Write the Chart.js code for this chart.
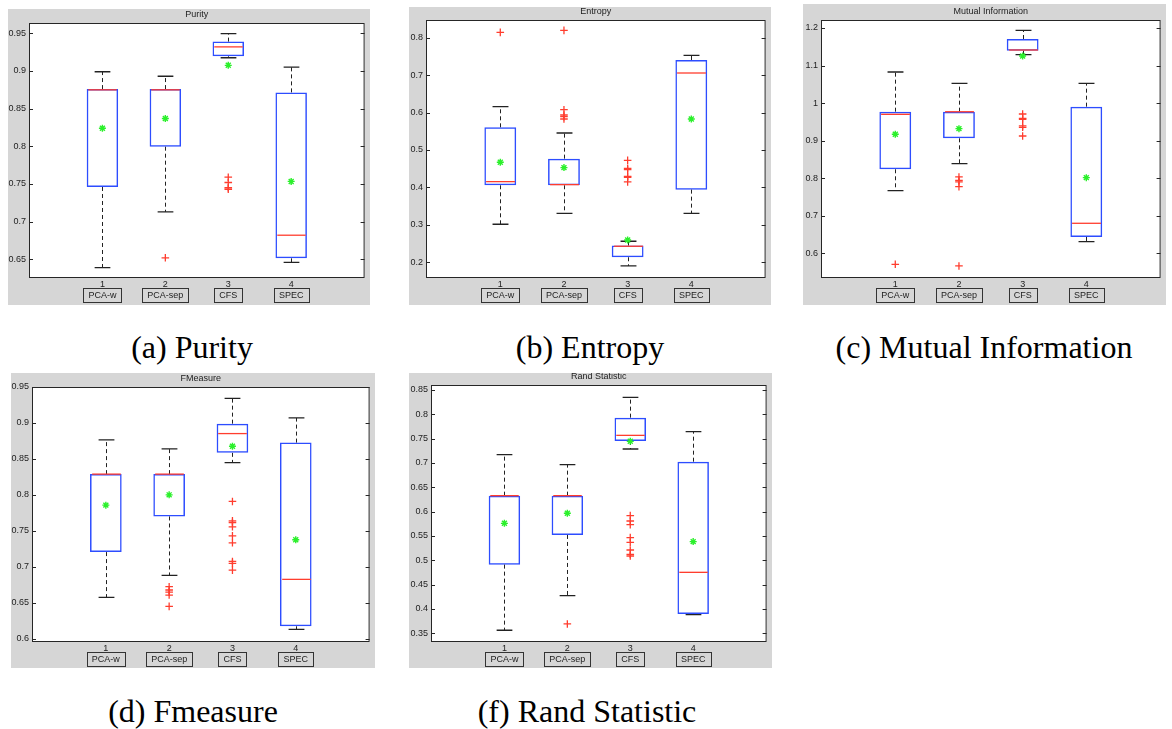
<!DOCTYPE html>
<html>
<head>
  <meta charset="utf-8">
  <title>Feature selection box plots</title>
  <script src="https://cdn.jsdelivr.net/npm/chart.js"></script>
  <style>
    body {
      margin: 0;
      width: 1172px;
      height: 729px;
      background: #fff;
      position: relative;
      overflow: hidden;
    }
    .panel {
      position: absolute;
      background: #d6d6d6;
    }
    .caption {
      position: absolute;
      font-family: "Liberation Serif", serif;
      font-size: 32px;
      color: #000;
      white-space: nowrap;
      transform: translate(-50%, -50%);
    }
  </style>
</head>
<body>

  <div class="caption" style="left:192px; top:347px;">(a) Purity</div>
  <div class="caption" style="left:590px; top:347px;">(b) Entropy</div>
  <div class="caption" style="left:984px; top:347px;">(c) Mutual Information</div>
  <div class="caption" style="left:193px; top:711px;">(d) Fmeasure</div>
  <div class="caption" style="left:587px; top:711px;">(f) Rand Statistic</div>

  <script>
    const groupNames = ['PCA-w', 'PCA-sep', 'CFS', 'SPEC'];
    const groupIndex = [1, 2, 3, 4];

    // Purity
    const purityRange = [0.6252, 0.9637];
    const purityTicks = [0.65, 0.7, 0.75, 0.8, 0.85, 0.9, 0.95];
    const purityQuartiles = [[0.746, 0.875, 0.876], [0.7995, 0.875, 0.876], [0.9195, 0.932, 0.939], [0.6513, 0.682, 0.8716]];
    const purityWhiskers = [[0.639, 0.899], [0.713, 0.893], [0.9176, 0.9496], [0.646, 0.905]];
    const purityMeans = [0.824, 0.837, 0.9075, 0.7534];
    const purityOutliers = [[], [0.652], [0.759, 0.752, 0.745, 0.743], []];

    // Entropy
    const entropyRange = [0.158, 0.8473];
    const entropyTicks = [0.2, 0.3, 0.4, 0.5, 0.6, 0.7, 0.8];
    const entropyQuartiles = [[0.4057, 0.4155, 0.5606], [0.4057, 0.4075, 0.4769], [0.2134, 0.2428, 0.2446], [0.3941, 0.7057, 0.7404]];
    const entropyWhiskers = [[0.3016, 0.6158], [0.3309, 0.5454], [0.1903, 0.2562], [0.3309, 0.7528]];
    const entropyMeans = [0.4671, 0.4529, 0.2597, 0.5828];
    const entropyOutliers = [[0.8142], [0.8196, 0.6077, 0.5935, 0.589, 0.5828], [0.4724, 0.4511, 0.4475, 0.4297, 0.4271, 0.4146], []];

    // Mutual Information
    const mutualRange = [0.5342, 1.2213];
    const mutualTicks = [0.6, 0.7, 0.8, 0.9, 1.0, 1.1, 1.2];
    const mutualQuartiles = [[0.8237, 0.9701, 0.9772], [0.9062, 0.977, 0.9772], [1.1396, 1.1414, 1.1707], [0.6435, 0.6799, 0.9905]];
    const mutualWhiskers = [[0.7669, 1.0828], [0.8388, 1.0527], [1.129, 1.1938], [0.6311, 1.0527]];
    const mutualMeans = [0.9169, 0.932, 1.1254, 0.8015];
    const mutualOutliers = [[0.5707], [0.8033, 0.7944, 0.79, 0.7775, 0.5663], [0.971, 0.9595, 0.9568, 0.9391, 0.9355, 0.9124], []];

    // FMeasure
    const fmeasureRange = [0.5958, 0.95];
    const fmeasureTicks = [0.6, 0.65, 0.7, 0.75, 0.8, 0.85, 0.9, 0.95];
    const fmeasureQuartiles = [[0.7207, 0.829, 0.829], [0.7702, 0.829, 0.829], [0.8585, 0.8853, 0.8991], [0.6176, 0.6828, 0.8728]];
    const fmeasureWhiskers = [[0.6578, 0.8765], [0.6883, 0.864], [0.845, 0.9343], [0.6134, 0.907]];
    const fmeasureMeans = [0.7859, 0.8002, 0.8677, 0.7378];
    const fmeasureOutliers = [[], [0.6726, 0.668, 0.6652, 0.661, 0.6453], [0.791, 0.7641, 0.7618, 0.7558, 0.7433, 0.7336, 0.7077, 0.705, 0.6957], []];

    // Rand Statistic
    const randRange = [0.3321, 0.8603];
    const randTicks = [0.35, 0.4, 0.45, 0.5, 0.55, 0.6, 0.65, 0.7, 0.75, 0.8, 0.85];
    const randQuartiles = [[0.4911, 0.6329, 0.6329], [0.5521, 0.6329, 0.6329], [0.7452, 0.7568, 0.7932], [0.3897, 0.4753, 0.7027]];
    const randWhiskers = [[0.3562, 0.7171], [0.4274, 0.6966], [0.7288, 0.8349], [0.3884, 0.7644]];
    const randMeans = [0.576, 0.5966, 0.7445, 0.5384];
    const randOutliers = [[], [0.3692], [0.5918, 0.5808, 0.5733, 0.5466, 0.537, 0.5212, 0.5123, 0.5089], []];

    const BLUE = '#2d4dff';
    const RED = '#ff3d2e';
    const GREEN = '#2bf02b';
    const INK = '#222';
    const FONT = { family: '"Liberation Sans", Arial, sans-serif', size: 9 };

    // box = [left, top, width, height] of the grey figure area
    const panels = [
      { title: 'Purity', range: purityRange, ticks: purityTicks, quart: purityQuartiles, whisk: purityWhiskers,
        means: purityMeans, outliers: purityOutliers, box: [8, 9, 362, 296], axisW: 21, axisH: 27, padTop: 14, padRight: 2 },
      { title: 'Entropy', range: entropyRange, ticks: entropyTicks, quart: entropyQuartiles, whisk: entropyWhiskers,
        means: entropyMeans, outliers: entropyOutliers, box: [409, 7, 362, 298], axisW: 17, axisH: 27, padTop: 13, padRight: 3 },
      { title: 'Mutual Information', range: mutualRange, ticks: mutualTicks, quart: mutualQuartiles, whisk: mutualWhiskers,
        means: mutualMeans, outliers: mutualOutliers, box: [803, 4, 363, 301], axisW: 18, axisH: 27, padTop: 16, padRight: 3 },
      { title: 'FMeasure', range: fmeasureRange, ticks: fmeasureTicks, quart: fmeasureQuartiles, whisk: fmeasureWhiskers,
        means: fmeasureMeans, outliers: fmeasureOutliers, box: [11, 373, 364, 295], axisW: 21, axisH: 26, padTop: 14, padRight: 4 },
      { title: 'Rand Statistic', range: randRange, ticks: randTicks, quart: randQuartiles, whisk: randWhiskers,
        means: randMeans, outliers: randOutliers, box: [409, 373, 363, 295], axisW: 22, axisH: 26, padTop: 12, padRight: 3 }
    ];

    function drawPanel(p) {
      const wrap = document.createElement('div');
      wrap.className = 'panel';
      wrap.style.left = p.box[0] + 'px';
      wrap.style.top = p.box[1] + 'px';
      wrap.style.width = p.box[2] + 'px';
      wrap.style.height = p.box[3] + 'px';
      const cv = document.createElement('canvas');
      cv.width = p.box[2];
      cv.height = p.box[3];
      wrap.appendChild(cv);
      document.body.appendChild(wrap);

      const boxParts = {
        id: 'boxParts',
        // white axes background on the grey figure
        beforeDraw(chart) {
          const { ctx, chartArea: a } = chart;
          ctx.save();
          ctx.fillStyle = '#fff';
          ctx.fillRect(a.left, a.top, a.width, a.height);
          ctx.restore();
        },
        // whiskers, caps and medians go on right after the boxes (dataset 2)
        afterDatasetDraw(chart, args) {
          if (args.index !== 2) return;
          const { ctx, scales: { x, y } } = chart;
          const half = x.getPixelForValue(1.25) - x.getPixelForValue(1);
          const cap = half / 2;
          ctx.save();
          groupIndex.forEach((g, i) => {
            const px = Math.round(x.getPixelForValue(g)) + 0.5;
            const [lo, hi] = p.whisk[i];
            const [q1, med, q3] = p.quart[i];

            ctx.strokeStyle = INK;
            ctx.lineWidth = 1;
            ctx.setLineDash([4, 3]);
            ctx.beginPath();
            ctx.moveTo(px, y.getPixelForValue(q3));
            ctx.lineTo(px, y.getPixelForValue(hi));
            ctx.moveTo(px, y.getPixelForValue(q1));
            ctx.lineTo(px, y.getPixelForValue(lo));
            ctx.stroke();

            ctx.setLineDash([]);
            ctx.lineWidth = 1.3;
            ctx.beginPath();
            [lo, hi].forEach(v => {
              const py = y.getPixelForValue(v);
              ctx.moveTo(px - cap, py);
              ctx.lineTo(px + cap, py);
            });
            ctx.stroke();

            ctx.strokeStyle = RED;
            ctx.lineWidth = 1.3;
            ctx.beginPath();
            const my = y.getPixelForValue(med);
            ctx.moveTo(px - half + 1.5, my);
            ctx.lineTo(px + half - 1.5, my);
            ctx.stroke();
          });
          ctx.restore();
        },
        afterDraw(chart) {
          const { ctx, chartArea: a, scales: { x, y } } = chart;
          ctx.save();
          ctx.strokeStyle = '#262626';
          ctx.lineWidth = 1;
          ctx.strokeRect(a.left + 0.5, a.top + 0.5, a.width - 1, a.height - 1);

          // tick marks point inward on both sides
          ctx.beginPath();
          y.ticks.forEach(t => {
            const py = Math.round(y.getPixelForValue(t.value)) + 0.5;
            ctx.moveTo(a.left, py);
            ctx.lineTo(a.left + 4, py);
            ctx.moveTo(a.right, py);
            ctx.lineTo(a.right - 4, py);
          });
          ctx.stroke();

          ctx.fillStyle = INK;
          ctx.font = FONT.size + 'px ' + FONT.family;
          ctx.textAlign = 'center';
          ctx.textBaseline = 'middle';
          ctx.fillText(p.title, (a.left + a.right) / 2, a.top - 8.5);

          // framed group names under the numbers
          groupNames.forEach((name, i) => {
            const px = x.getPixelForValue(groupIndex[i]);
            const w = Math.round(ctx.measureText(name).width + 10);
            const top = Math.round(a.bottom + 10) + 0.5;
            ctx.strokeStyle = '#333';
            ctx.strokeRect(Math.round(px - w / 2) + 0.5, top, w, 14);
            ctx.fillText(name, px, top + 7.5);
          });
          ctx.restore();
        }
      };

      new Chart(cv, {
        type: 'bar',
        data: {
          datasets: [
            {
              type: 'scatter',
              data: groupIndex.map((g, i) => ({ x: g, y: p.means[i] })),
              pointStyle: 'star',
              pointRadius: 3.5,
              borderColor: GREEN,
              backgroundColor: GREEN,
              borderWidth: 1.4
            },
            {
              type: 'scatter',
              data: p.outliers.flatMap((list, i) => list.map(v => ({ x: groupIndex[i], y: v }))),
              pointStyle: 'cross',
              pointRadius: 3.8,
              borderColor: RED,
              borderWidth: 1.3
            },
            {
              type: 'bar',
              data: groupIndex.map((g, i) => ({ x: g, y: [p.quart[i][0], p.quart[i][2]] })),
              backgroundColor: 'rgba(0,0,0,0)',
              borderColor: BLUE,
              borderWidth: 1.5,
              borderSkipped: false,
              barPercentage: 0.5,
              categoryPercentage: 1
            }
          ]
        },
        options: {
          responsive: false,
          animation: false,
          layout: { padding: { top: p.padTop, right: p.padRight, left: 0, bottom: 0 } },
          plugins: {
            legend: { display: false },
            tooltip: { enabled: false }
          },
          scales: {
            x: {
              type: 'linear',
              min: 0.5,
              max: 4.5,
              grid: { display: false, drawTicks: false },
              border: { display: false },
              afterBuildTicks: s => { s.ticks = groupIndex.map(v => ({ value: v })); },
              afterFit: s => { s.height = p.axisH; },
              ticks: { font: FONT, color: INK, padding: 1, maxRotation: 0, autoSkip: false }
            },
            y: {
              min: p.range[0],
              max: p.range[1],
              grid: { display: false, drawTicks: false },
              border: { display: false },
              afterBuildTicks: s => { s.ticks = p.ticks.map(v => ({ value: v })); },
              afterFit: s => { s.width = p.axisW; },
              ticks: { font: FONT, color: INK, padding: 3, autoSkip: false, callback: v => String(+v.toFixed(2)) }
            }
          }
        },
        plugins: [boxParts]
      });
    }

    panels.forEach(drawPanel);
  </script>
</body>
</html>
